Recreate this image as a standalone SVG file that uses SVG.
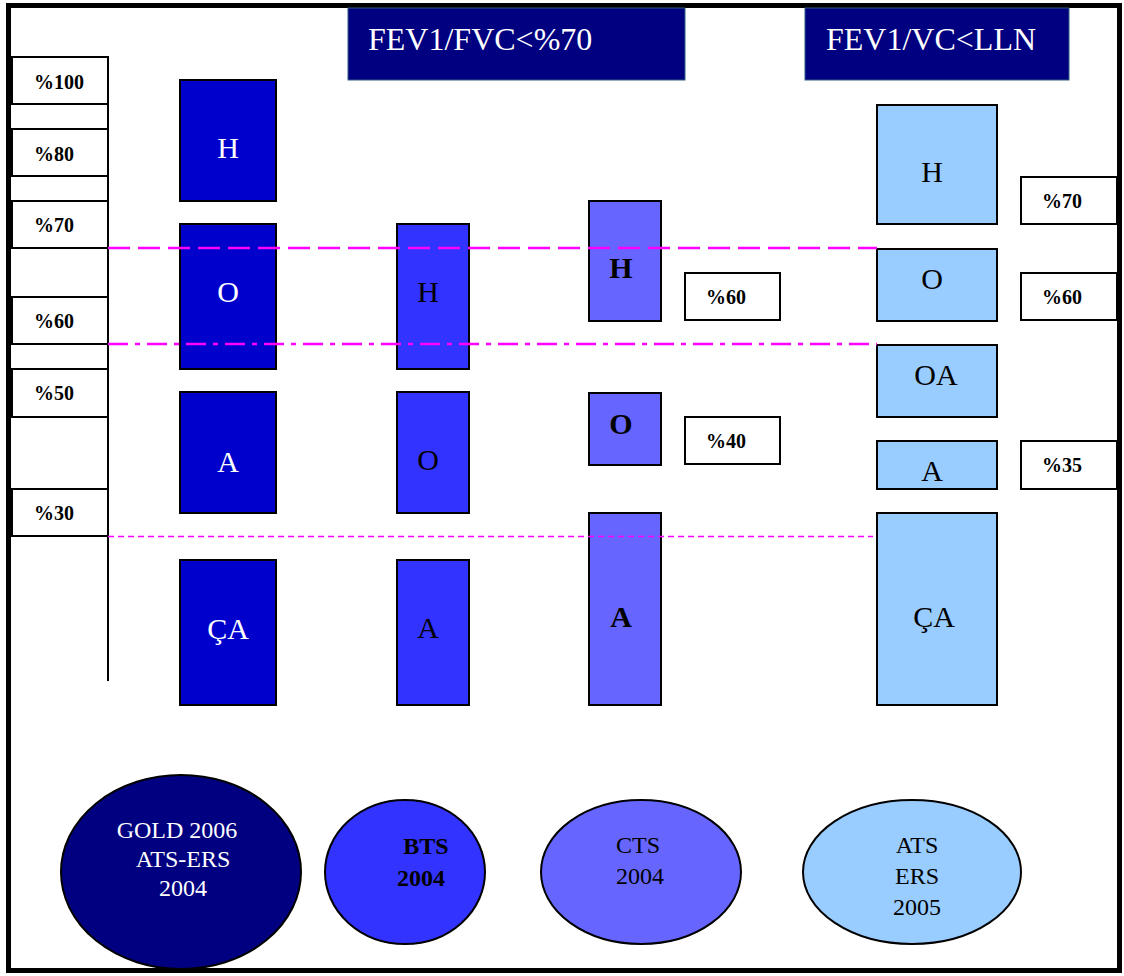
<svg xmlns="http://www.w3.org/2000/svg" width="1124" height="976" viewBox="0 0 1124 976">
<style>
.frame{fill:#fff;stroke:#000;stroke-width:5}
.hdr{fill:#000080;stroke:#2F5F7F;stroke-width:1}
.hdrt{font-family:"Liberation Serif",serif;font-size:32px;fill:#fff}
.lbl{fill:#fff;stroke:#000;stroke-width:2}
.lblt{font-family:"Liberation Serif",serif;font-size:20px;font-weight:bold;fill:#000}
.b1{fill:#0000CC;stroke:#000;stroke-width:2}
.b2{fill:#3333FF;stroke:#000;stroke-width:2}
.b3{fill:#6666FF;stroke:#000;stroke-width:2}
.b4{fill:#99CCFF;stroke:#000;stroke-width:2}
.t1{font-family:"Liberation Serif",serif;font-size:30px;fill:#fff;text-anchor:middle}
.t2{font-family:"Liberation Serif",serif;font-size:30px;fill:#000;text-anchor:middle}
.t3{font-family:"Liberation Serif",serif;font-size:30px;font-weight:bold;fill:#000;text-anchor:middle}
.et{font-family:"Liberation Serif",serif;font-size:24px;text-anchor:middle}
.ell{stroke:#000;stroke-width:2}
</style>
<rect class="frame" x="8.5" y="5.5" width="1111" height="965"/>

<g id="headers">
<g id="hdr1"><rect class="hdr" x="348" y="8" width="337" height="72"/><text class="hdrt" x="368" y="50">FEV1/FVC&lt;%70</text></g>
<g id="hdr2"><rect class="hdr" x="805" y="8" width="264" height="72"/><text class="hdrt" x="826" y="50">FEV1/VC&lt;LLN</text></g>
</g>

<g id="scale">
<line x1="108" y1="57" x2="108" y2="681" stroke="#000" stroke-width="2"/>
<g id="s100"><rect class="lbl" x="12" y="57" width="96" height="47"/><text class="lblt" x="34" y="89">%100</text></g>
<g id="s80"><rect class="lbl" x="12" y="129" width="96" height="47"/><text class="lblt" x="34" y="161">%80</text></g>
<g id="s70"><rect class="lbl" x="12" y="201" width="96" height="47"/><text class="lblt" x="34" y="232">%70</text></g>
<g id="s60"><rect class="lbl" x="12" y="297" width="96" height="47"/><text class="lblt" x="34" y="328">%60</text></g>
<g id="s50"><rect class="lbl" x="12" y="369" width="96" height="48"/><text class="lblt" x="34" y="400">%50</text></g>
<g id="s30"><rect class="lbl" x="12" y="489" width="96" height="47"/><text class="lblt" x="34" y="520">%30</text></g>
</g>

<g id="col1">
<g id="c1H"><rect class="b1" x="180" y="80" width="96" height="121"/><text class="t1" x="228" y="158">H</text></g>
<g id="c1O"><rect class="b1" x="180" y="224" width="96" height="145"/><text class="t1" x="228" y="302">O</text></g>
<g id="c1A"><rect class="b1" x="180" y="392" width="96" height="121"/><text class="t1" x="228" y="472">A</text></g>
<g id="c1CA"><rect class="b1" x="180" y="560" width="96" height="145"/><text class="t1" x="228" y="639">ÇA</text></g>
</g>

<g id="col2">
<g id="c2H"><rect class="b2" x="397" y="224" width="72" height="145"/><text class="t2" x="428" y="302">H</text></g>
<g id="c2O"><rect class="b2" x="397" y="392" width="72" height="121"/><text class="t2" x="428" y="470">O</text></g>
<g id="c2A"><rect class="b2" x="397" y="560" width="72" height="145"/><text class="t2" x="428" y="638">A</text></g>
</g>

<g id="col3">
<g id="c3H"><rect class="b3" x="589" y="201" width="72" height="120"/><text class="t3" x="621" y="278">H</text></g>
<g id="c3O"><rect class="b3" x="589" y="393" width="72" height="72"/><text class="t3" x="621" y="434">O</text></g>
<g id="c3A"><rect class="b3" x="589" y="513" width="72" height="192"/><text class="t3" x="621" y="627">A</text></g>
<g id="c3p60"><rect class="lbl" x="685" y="273" width="95" height="47"/><text class="lblt" x="706" y="304">%60</text></g>
<g id="c3p40"><rect class="lbl" x="685" y="417" width="95" height="47"/><text class="lblt" x="706" y="448">%40</text></g>
</g>

<g id="col4">
<g id="c4H"><rect class="b4" x="877" y="105" width="120" height="119"/><text class="t2" x="932" y="182">H</text></g>
<g id="c4O"><rect class="b4" x="877" y="249" width="120" height="72"/><text class="t2" x="932" y="289">O</text></g>
<g id="c4OA"><rect class="b4" x="877" y="345" width="120" height="72"/><text class="t2" x="936" y="385">OA</text></g>
<g id="c4A"><rect class="b4" x="877" y="441" width="120" height="48"/><text class="t2" x="932" y="481">A</text></g>
<g id="c4CA"><rect class="b4" x="877" y="513" width="120" height="192"/><text class="t2" x="934" y="627">ÇA</text></g>
<g id="c4p70"><rect class="lbl" x="1021" y="177" width="96" height="47"/><text class="lblt" x="1042" y="208">%70</text></g>
<g id="c4p60"><rect class="lbl" x="1021" y="273" width="96" height="47"/><text class="lblt" x="1042" y="304">%60</text></g>
<g id="c4p35"><rect class="lbl" x="1021" y="441" width="96" height="48"/><text class="lblt" x="1042" y="472">%35</text></g>
</g>

<g id="connectors">
<line x1="108" y1="248" x2="877" y2="248" stroke="#FF00FF" stroke-width="2.5" stroke-dasharray="22 8"/>
<line x1="108" y1="344" x2="877" y2="344" stroke="#FF00FF" stroke-width="2.5" stroke-dasharray="20 7 5 7"/>
<line x1="108" y1="536.5" x2="873" y2="536.5" stroke="#FF00FF" stroke-width="1.5" stroke-dasharray="6 4"/>
</g>

<g id="ellipses">
<g id="eGOLD"><ellipse class="ell" cx="181" cy="872" rx="120" ry="97" fill="#000080"/>
<text class="et" fill="#fff"><tspan x="177" y="838">GOLD 2006</tspan><tspan x="183" y="867">ATS-ERS</tspan><tspan x="183" y="896">2004</tspan></text></g>
<g id="eBTS"><ellipse class="ell" cx="405" cy="872" rx="80" ry="72" fill="#3333FF"/>
<text class="et" fill="#000" font-weight="bold"><tspan x="426" y="854">BTS</tspan><tspan x="421" y="886">2004</tspan></text></g>
<g id="eCTS"><ellipse class="ell" cx="641" cy="872" rx="100" ry="72" fill="#6666FF"/>
<text class="et" fill="#000"><tspan x="638" y="853">CTS</tspan><tspan x="640" y="884">2004</tspan></text></g>
<g id="eATS"><ellipse class="ell" cx="912" cy="872" rx="109" ry="72" fill="#99CCFF"/>
<text class="et" fill="#000"><tspan x="917" y="853">ATS</tspan><tspan x="917" y="884">ERS</tspan><tspan x="917" y="915">2005</tspan></text></g>
</g>
</svg>
